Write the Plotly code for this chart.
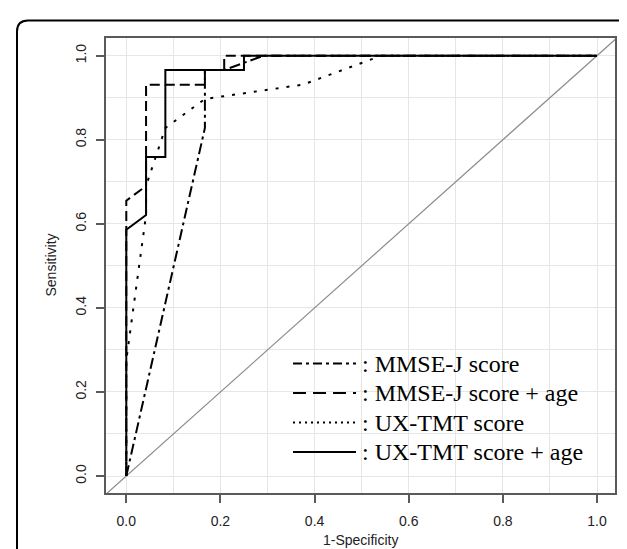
import plotly.graph_objects as go

# ---------------- data ----------------
mmse_x = [0.0, 0.167, 0.167, 0.208, 0.292, 1.0]
mmse_y = [0.0, 0.828, 0.966, 0.966, 1.0, 1.0]

mmse_age_x = [0.0, 0.0, 0.042, 0.042, 0.167, 0.167, 0.208, 0.208, 1.0]
mmse_age_y = [0.0, 0.655, 0.690, 0.931, 0.931, 0.966, 0.966, 1.0, 1.0]

ux_x = [0.0, 0.0, 0.042, 0.042, 0.083, 0.167, 0.375, 0.542, 1.0]
ux_y = [0.0, 0.276, 0.621, 0.690, 0.828, 0.897, 0.931, 1.0, 1.0]

ux_age_x = [0.0, 0.0, 0.042, 0.042, 0.083, 0.083, 0.250, 0.250, 1.0]
ux_age_y = [0.0, 0.586, 0.621, 0.759, 0.759, 0.966, 0.966, 1.0, 1.0]

ref_x = [-0.1, 1.1]
ref_y = [-0.1, 1.1]

series_names = [": MMSE-J score", ": MMSE-J score + age", ": UX-TMT score", ": UX-TMT score + age"]
tick_vals = [0.0, 0.2, 0.4, 0.6, 0.8, 1.0]
tick_text = ["0.0", "0.2", "0.4", "0.6", "0.8", "1.0"]
minor_vals = [0.1, 0.3, 0.5, 0.7, 0.9]
x_title = "1-Specificity"
y_title = "Sensitivity"

# ---------------- layout helpers ----------------
W, H = 627, 549
L, R, T, B = 98, 20, 30, 64
PW, PH = W - L - R, H - T - B


def px(xp):
    return (xp - L) / PW


def py(yp):
    return (H - B - yp) / PH


dash_styles = ["11px,4px,3px,4px", "10px,5px", "3px,8px", "solid"]
legend_dash_styles = ["9px,4px,3px,4px", "13px,7px", "2px,4px", "solid"]

series = [
    (mmse_x, mmse_y),
    (mmse_age_x, mmse_age_y),
    (ux_x, ux_y),
    (ux_age_x, ux_age_y),
]

fig = go.Figure()

fig.add_trace(go.Scatter(x=ref_x, y=ref_y, mode="lines",
                         line=dict(color="#8c8c8c", width=1.2),
                         showlegend=False, hoverinfo="skip"))

for (xs, ys), name, dash in zip(series, series_names, dash_styles):
    fig.add_trace(go.Scatter(x=xs, y=ys, mode="lines", name=name,
                             line=dict(color="black", width=2, dash=dash),
                             showlegend=False))

axis_common = dict(
    tickmode="array", tickvals=tick_vals, ticktext=tick_text,
    ticks="outside", ticklen=8, tickwidth=2, tickcolor="#5a5a5a",
    showline=True, mirror=True, linecolor="#5a5a5a", linewidth=2,
    showgrid=True, gridcolor="#e6e6e6", gridwidth=1,
    minor=dict(tickmode="array", tickvals=minor_vals,
               showgrid=True, gridcolor="#e6e6e6", gridwidth=1, ticks=""),
    zeroline=False,
    tickfont=dict(family="Liberation Sans, Arial, sans-serif", size=14, color="#222222"),
)

fig.update_xaxes(range=[-0.0431, 1.0382], ticklabelstandoff=6, **axis_common)
fig.update_yaxes(range=[-0.0404, 1.042], tickangle=-90, ticklabelstandoff=4, **axis_common)

shapes = []
# white legend background (covers gridlines)
shapes.append(dict(type="rect", xref="paper", yref="paper",
                   x0=px(283), x1=px(592), y0=py(477), y1=py(322),
                   fillcolor="white", line=dict(width=0), layer="between"))

row_y = [355.5, 385, 414.5, 444]
annotations = []
for name, dash, ry in zip(series_names, legend_dash_styles, row_y):
    shapes.append(dict(type="line", xref="paper", yref="paper",
                       x0=px(285), x1=px(348), y0=py(ry), y1=py(ry),
                       line=dict(color="black", width=2.2, dash=dash)))
    annotations.append(dict(text=name, xref="paper", yref="paper",
                            x=px(352), y=py(ry), xanchor="left", yanchor="middle",
                            showarrow=False,
                            font=dict(family="Liberation Serif, Times New Roman, serif",
                                      size=24, color="black")))

# axis titles
annotations.append(dict(text=x_title, xref="paper", yref="paper",
                        x=0.5, y=py(532), xanchor="center", yanchor="middle",
                        showarrow=False,
                        font=dict(family="Liberation Sans, Arial, sans-serif", size=14, color="#222222")))
annotations.append(dict(text=y_title, xref="paper", yref="paper",
                        x=px(42), y=0.5, xanchor="center", yanchor="middle",
                        textangle=-90, showarrow=False,
                        font=dict(family="Liberation Sans, Arial, sans-serif", size=14, color="#222222")))

# outer rounded frame (open at the bottom, cropped)
lx, rx, ty, by, r = 9, 625, 12.5, 570, 11
path = (f"M {px(lx)},{py(by)} L {px(lx)},{py(ty + r)} "
        f"Q {px(lx)},{py(ty)} {px(lx + r)},{py(ty)} "
        f"L {px(rx - r)},{py(ty)} "
        f"Q {px(rx)},{py(ty)} {px(rx)},{py(ty + r)} "
        f"L {px(rx)},{py(by)}")
shapes.append(dict(type="path", xref="paper", yref="paper", path=path,
                   line=dict(color="black", width=2), layer="above"))

fig.update_layout(
    width=W, height=H,
    margin=dict(l=L, r=R, t=T, b=B, pad=0),
    paper_bgcolor="white", plot_bgcolor="white",
    shapes=shapes, annotations=annotations,
    showlegend=False,
)

fig.write_html("out.html")
